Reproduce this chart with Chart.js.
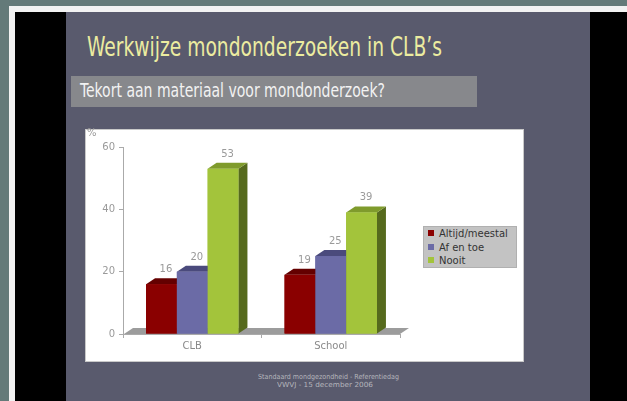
<!DOCTYPE html>
<html>
<head>
<meta charset="utf-8">
<script src="https://cdn.jsdelivr.net/npm/chart.js@4.4.1/dist/chart.umd.min.js"></script>
<style>
html, body { margin: 0; padding: 0; overflow: hidden; width: 100%; height: 100%; }
body { background: #647a79; position: relative; font-family: "DejaVu Sans", sans-serif; }
#black { position: absolute; left: 9px; top: 6px; right: 0; bottom: 0; background: #000; border-left: 6px solid #f2f2f2; border-top: 6px solid #f2f2f2; }
#slide { position: absolute; left: 66px; top: 12px; width: 524px; bottom: 0; background: #595a6d; }
.fit { position: absolute; white-space: nowrap; transform-origin: 0 0; }
#title { left: 87px; top: 33px; font-size: 27px; line-height: 27px; color: #ececa0; font-family: "Liberation Sans Narrow", "DejaVu Sans Condensed", sans-serif; }
#subbar { position: absolute; left: 71px; top: 76px; width: 406px; height: 31px; background: #87888c; }
#subtitle { left: 80px; top: 81px; font-size: 19px; line-height: 19px; color: #f2f2f2; font-family: "Liberation Sans Narrow", "DejaVu Sans Condensed", sans-serif; }
#box { position: absolute; left: 85px; top: 129px; width: 437px; height: 231px; background: #fff; border: 1px solid #c9c9c9; }
#chart { position: absolute; left: 86px; top: 129px; }
#pct { position: absolute; left: 87px; top: 127px; font-size: 10px; color: #999; }
#legend { position: absolute; left: 423px; top: 226px; width: 92px; height: 40px; background: #c3c3c3; border: 1px solid #b0b0b0; font-size: 10px; color: #333; }
#legend div { position: absolute; left: 4px; height: 13px; line-height: 13px; white-space: nowrap; }
#legend span { display: inline-block; width: 6px; height: 6px; margin-right: 5px; vertical-align: 1px; }
.foot { font-size: 7px; line-height: 8px; color: #b4b5bc; font-family: "Liberation Sans Narrow", "DejaVu Sans Condensed", sans-serif; }
</style>
</head>
<body>
<div id="black"></div>
<div id="slide"></div>
<div id="title" class="fit" data-w="355">Werkwijze mondonderzoeken in CLB’s</div>
<div id="subbar"></div>
<div id="subtitle" class="fit" data-w="305">Tekort aan materiaal voor mondonderzoek?</div>
<div id="box"></div>
<canvas id="chart" width="438" height="233"></canvas>
<div id="pct">%</div>
<div id="legend"></div>
<div id="foot1" class="fit foot" data-w="141" data-c="328" style="top:373px">Standaard mondgezondheid - Referentiedag</div>
<div id="foot2" class="fit foot" data-w="96" data-c="325" style="top:381px">VWVJ - 15 december 2006</div>
<script>
// chart data
const categories = ['CLB', 'School'];
const seriesNames = ['Altijd/meestal', 'Af en toe', 'Nooit'];
const altijdMeestal = [16, 19];
const afEnToe = [20, 25];
const nooit = [53, 39];
const yTicks = [0, 20, 40, 60];

// front / top / side colours for each series
const frontColors = ['#8a0000', '#6b6ba6', '#a3c43b'];
const topColors = ['#640000', '#4a4a7c', '#7f9b2c'];
const sideColors = ['#4c0000', '#3c3c66', '#566a1d'];

const DX = 9, DY = 6;

// stretch slide text to the width it has in the original
document.querySelectorAll('.fit').forEach(el => {
    const w = el.getBoundingClientRect().width;
    const s = +el.dataset.w / w;
    if (el.dataset.c) {
        el.style.left = (+el.dataset.c - +el.dataset.w / 2) + 'px';
    }
    el.style.transform = 'scaleX(' + s + ')';
});

// legend
const legend = document.getElementById('legend');
seriesNames.forEach((name, i) => {
    const row = document.createElement('div');
    row.style.top = (0 + i * 13.5) + 'px';
    row.innerHTML = '<span style="background:' + frontColors[i] + '"></span>' + name;
    legend.appendChild(row);
});

// floor + 3D bar faces
const bars3d = {
    id: 'bars3d',
    beforeDatasetsDraw(chart) {
        const ctx = chart.ctx;
        const a = chart.chartArea;
        const b = chart.scales.y.getPixelForValue(0);
        ctx.save();
        ctx.fillStyle = '#9c9c9c';
        ctx.beginPath();
        ctx.moveTo(a.left + 1, b);
        ctx.lineTo(a.left + 1 + DX, b - DY);
        ctx.lineTo(a.right + DX, b - DY);
        ctx.lineTo(a.right, b);
        ctx.closePath();
        ctx.fill();
        ctx.restore();
    },
    afterDatasetsDraw(chart) {
        const ctx = chart.ctx;
        ctx.save();
        for (let j = 0; j < categories.length; j++) {
            for (let i = 0; i < chart.data.datasets.length; i++) {
                const bar = chart.getDatasetMeta(i).data[j];
                const p = bar.getProps(['x', 'y', 'width', 'base'], true);
                const l = p.x - p.width / 2, r = p.x + p.width / 2;
                // side
                ctx.fillStyle = sideColors[i];
                ctx.beginPath();
                ctx.moveTo(r, p.y);
                ctx.lineTo(r + DX, p.y - DY);
                ctx.lineTo(r + DX, p.base - DY);
                ctx.lineTo(r, p.base);
                ctx.closePath();
                ctx.fill();
                // top
                ctx.fillStyle = topColors[i];
                ctx.beginPath();
                ctx.moveTo(l, p.y);
                ctx.lineTo(l + DX, p.y - DY);
                ctx.lineTo(r + DX, p.y - DY);
                ctx.lineTo(r, p.y);
                ctx.closePath();
                ctx.fill();
                // front
                ctx.fillStyle = frontColors[i];
                ctx.fillRect(l, p.y, p.width, p.base - p.y);
            }
        }
        // value labels
        ctx.fillStyle = '#9a9a9a';
        ctx.font = '10px "DejaVu Sans"';
        ctx.textAlign = 'center';
        ctx.textBaseline = 'alphabetic';
        chart.data.datasets.forEach((ds, i) => {
            chart.getDatasetMeta(i).data.forEach((bar, j) => {
                ctx.fillText(String(ds.data[j]), bar.x + DX / 2, bar.y - DY - 6);
            });
        });
        ctx.restore();
    }
};

new Chart(document.getElementById('chart'), {
    type: 'bar',
    data: {
        labels: categories,
        datasets: [
            { label: seriesNames[0], data: altijdMeestal, backgroundColor: frontColors[0] },
            { label: seriesNames[1], data: afEnToe, backgroundColor: frontColors[1] },
            { label: seriesNames[2], data: nooit, backgroundColor: frontColors[2] }
        ]
    },
    options: {
        responsive: false,
        animation: false,
        events: [],
        categoryPercentage: 0.667,
        barPercentage: 1,
        layout: { padding: { top: 18, right: 124, bottom: 0, left: 0 } },
        plugins: {
            legend: { display: false },
            tooltip: { enabled: false }
        },
        scales: {
            x: {
                afterFit: s => { s.height = 28; },
                grid: { offset: true, drawOnChartArea: false, tickLength: 4, color: '#aaa' },
                border: { color: '#aaa' },
                ticks: { color: '#8a8a8a', font: { family: 'DejaVu Sans', size: 10 }, padding: 2 }
            },
            y: {
                min: 0,
                max: 60,
                afterFit: s => { s.width = 37; },
                afterBuildTicks: s => { s.ticks = yTicks.map(v => ({ value: v })); },
                grid: { drawOnChartArea: false, tickLength: 4, color: '#aaa' },
                border: { color: '#aaa' },
                ticks: { color: '#9a9a9a', font: { family: 'DejaVu Sans', size: 10 }, padding: 4 }
            }
        }
    },
    plugins: [bars3d]
});
</script>
</body>
</html>
